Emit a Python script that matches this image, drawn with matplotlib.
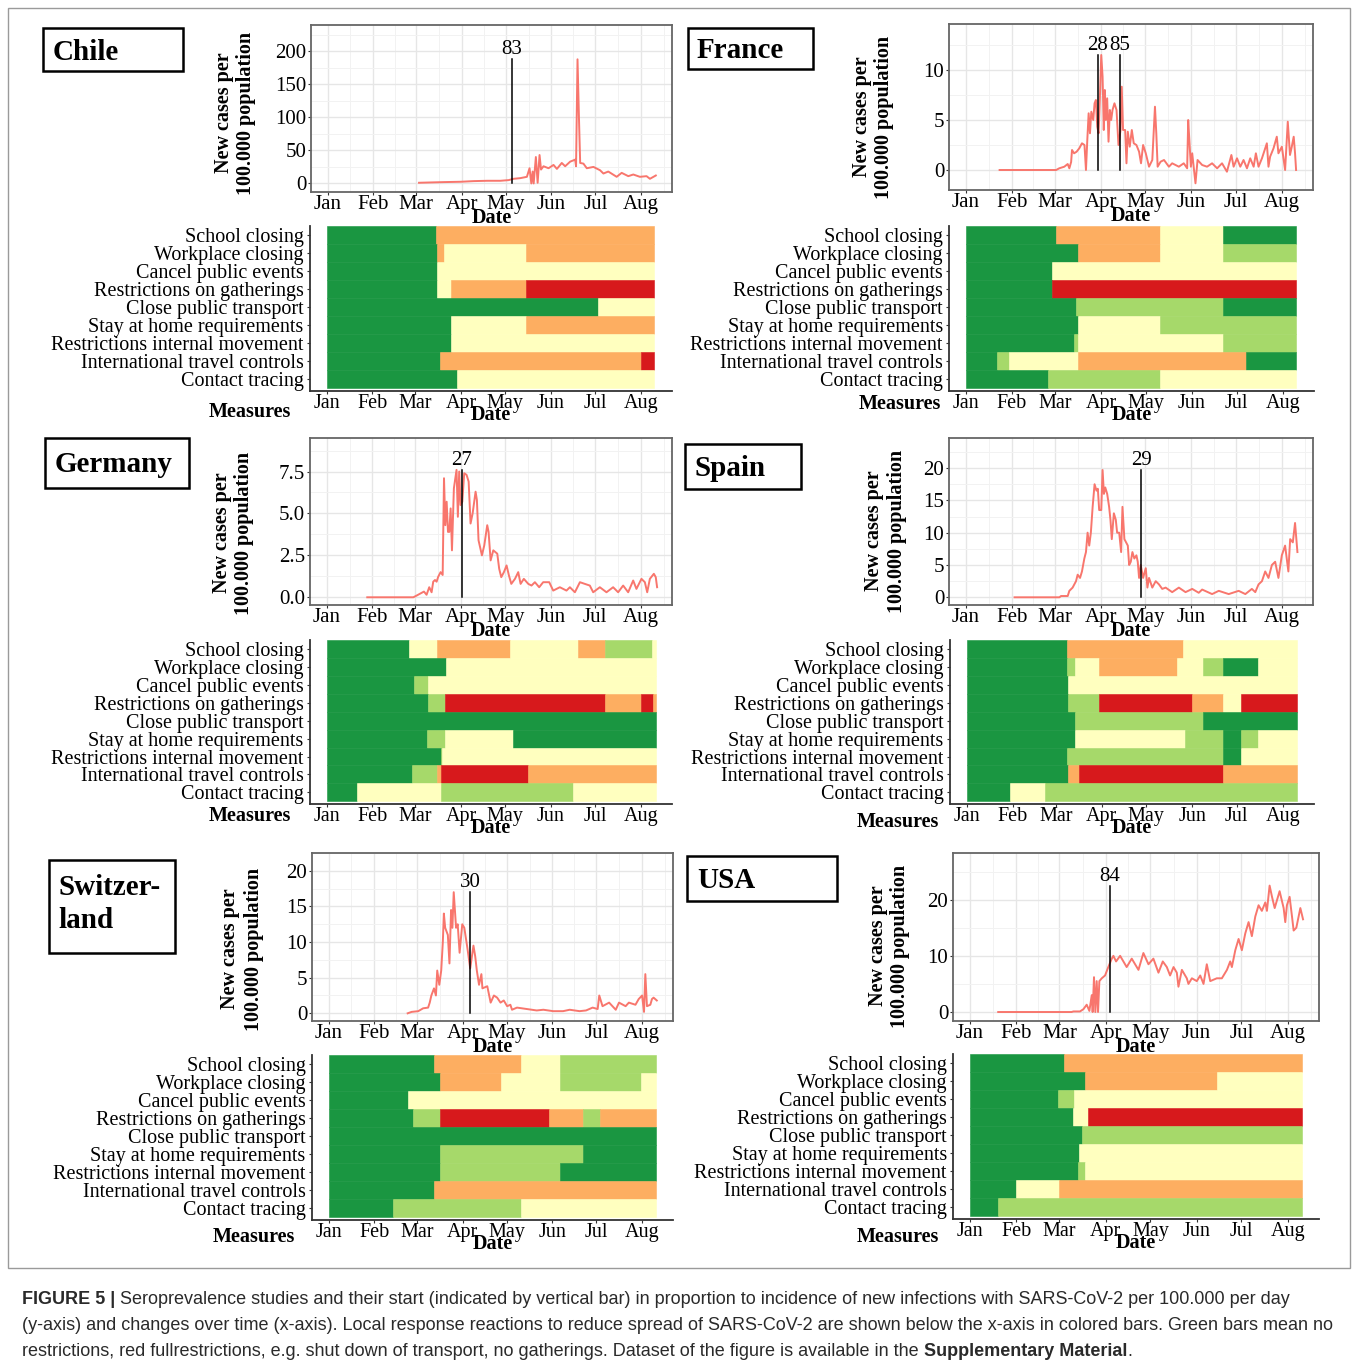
import numpy as np
import matplotlib
matplotlib.use('Agg')
import matplotlib.pyplot as plt
from matplotlib.patches import Rectangle

W, H = 1357, 1370
SERIF = ['Liberation Serif', 'DejaVu Serif']
SANS = ['Liberation Sans', 'DejaVu Sans']
plt.rcParams['font.family'] = SERIF

# ---------------- data ----------------
MONTHS = ['Jan', 'Feb', 'Mar', 'Apr', 'May', 'Jun', 'Jul', 'Aug']
MEASURES = ['School closing', 'Workplace closing', 'Cancel public events',
            'Restrictions on gatherings', 'Close public transport',
            'Stay at home requirements', 'Restrictions internal movement',
            'International travel controls', 'Contact tracing']
LEVEL_COLORS = ['#1a9641', '#a6d96a', '#ffffbf', '#fdae61', '#d7191c']

# days since 2020-01-01 and new cases per 100.000
CHILE_DAYS = [62.1, 79, 90.3, 99.3, 108.4, 117.4, 123, 126.4, 130.9, 135.4, 137.2, 138.4, 139.3, 140,
              141.5, 142.7, 144, 145, 146.7, 150.1, 153.5, 155.8, 159.1, 161.4, 164.8, 168.2, 168.8,
              169.8, 170.7, 171.6, 173.8, 176.1, 180.6, 185.1, 187.4, 190.7, 196.4, 199.8, 204.3,
              207.7, 212.2, 216.7, 219, 223]
CHILE_CASES = [1, 2, 2.5, 3.5, 4, 4, 5, 7, 8, 10, 23, 0, 18, 0, 40, 1, 43, 21, 26, 23, 28, 22, 31, 26,
               33, 36, 26, 188, 106, 31, 30, 23, 25, 20, 15, 18, 10, 16, 11, 13.5, 10, 11, 7, 12]
CHILE_STUDIES = [(125.3, '83')]

FRANCE_DAYS = [22.8, 60.9, 63, 66.4, 68.7, 69.8, 71, 71.6, 73, 74.7, 76.5, 78.3, 80, 81, 81.9, 82.8,
               83.7, 84.6, 85.9, 86.8, 87.7, 88.6, 89.5, 90.4, 91.3, 92.2, 93, 93.7, 94.4, 95.3, 96.2,
               97.1, 98, 98.9, 100.2, 101.6, 102.9, 104.3, 105.1, 106, 107.4, 108.3, 109.2, 110.5,
               111.9, 113.2, 115, 116.8, 118.1, 119.5, 121.3, 123.5, 125.7, 126.6, 127.5, 128.4, 129.3,
               131.3, 133.6, 136.9, 139.1, 143.6, 146.9, 149.2, 149.9, 150.8, 151.7, 152.6, 154.8,
               156.2, 159.3, 162.6, 166, 169.4, 172.7, 176, 179, 180.5, 182.8, 185, 187.2, 189.5,
               191.7, 194, 195.5, 197.3, 199.6, 202.9, 204, 205.1, 207.4, 209.6, 210.7, 213, 215.2,
               217, 218.5, 219.7, 221, 221.9, 222.6]
FRANCE_CASES = [0, 0, 0.17, 0.33, 0.6, 0.17, 0.8, 2.0, 1.67, 1.83, 2.17, 2.67, 2.5, 0, 3.0, 5.67, 3.67,
                5.83, 5.0, 6.67, 7.0, 4.33, 3.67, 7.33, 11.5, 9.33, 4.0, 8.0, 5.0, 7.17, 2.83, 6.0, 5.0,
                6.0, 6.67, 6.0, 2.5, 4.0, 8.33, 4.0, 4.0, 0.67, 3.83, 2.33, 4.0, 2.67, 2.5, 1.83, 0.67,
                2.5, 1.67, 0.33, 1.0, 3.67, 6.33, 3.67, 0.33, 0.83, 1.0, 0.33, 0.67, 0.33, 0.67, 0.17,
                5.0, 2.67, 0.33, 1.67, -1.33, 1.0, 0.5, 0.33, 0.67, 0.17, 0.67, -0.17, 1.5, 0.33, 1.17,
                0.33, 1.0, 0.17, 1.17, 0.33, 1.67, 0.33, 1.17, 2.67, 0.33, 1.33, 2.17, 3.33, 1.67, 2.33,
                0, 4.83, 1.5, 2.33, 3.33, 1.67, 0]
FRANCE_STUDIES = [(89, '28'), (104, '85')]

GERMANY_DAYS = [27.5, 58.7, 60.9, 65.9, 67.7, 69.5, 71.1, 72.2, 73.4, 74.5, 75.6, 77.2, 78.6, 79.5,
                80.4, 81.3, 82.2, 83.1, 84, 84.9, 86.2, 88, 88.9, 89.8, 90.7, 91.9, 93.2, 94.8, 96.2,
                97.5, 98.9, 100.9, 101.8, 102.9, 105.2, 106.8, 108.8, 109.7, 111.1, 112.9, 115.6, 116.9,
                118.3, 120.1, 121.9, 123.5, 125.1, 127.6, 129.8, 131.4, 133.6, 136.6, 138.8, 141.1, 144,
                146.7, 150.8, 153.5, 158, 162.5, 164.8, 168.2, 171.6, 174.9, 178.3, 180.6, 185.1, 189.6,
                194.1, 197.5, 200.9, 204.3, 207.7, 209.9, 213.3, 215.6, 217.2, 219, 221.7, 223, 223.9]
GERMANY_CASES = [0, 0, 0.1, 0.34, 0.15, 0.6, 0.3, 0.93, 1.03, 0.93, 1.23, 1.5, 1.33, 7.1, 4.3, 5.7, 3.9,
                 3.9, 5.3, 2.8, 6.5, 7.6, 4.8, 7.5, 5.5, 5.7, 7.4, 7.3, 6.9, 4.4, 5.0, 6.3, 5.8, 3.4, 2.5,
                 3.1, 4.3, 3.9, 2.2, 2.8, 2.6, 1.7, 1.2, 1.5, 1.9, 1.3, 0.8, 1.1, 1.5, 0.8, 1.1, 0.8, 0.7,
                 0.9, 0.6, 0.9, 0.9, 0.4, 0.6, 0.4, 0.6, 0.3, 0.9, 0.8, 0.7, 0.3, 0.6, 0.3, 0.6, 0.3, 0.7,
                 0.3, 1.0, 0.5, 1.1, 0.9, 0.3, 1.1, 1.4, 1.2, 0.6]
GERMANY_STUDIES = [(91.4, '27')]

SPAIN_DAYS = [32.9, 63.1, 64.2, 68.7, 69.8, 72, 74.3, 75.4, 77, 78.3, 79.9, 81, 82.1, 83.2, 84.3, 85.5,
              86.8, 88.1, 89, 89.9, 91.3, 92.2, 93.1, 94, 95.3, 96.6, 97.5, 98.4, 99.8, 101.1, 102,
              103.4, 104.7, 105.6, 106.9, 109.2, 110.1, 111.2, 112.3, 113.6, 115, 115.9, 116.8, 117.9,
              119.5, 121.3, 122.4, 123.5, 125.7, 128, 130.2, 132.4, 134.7, 139.1, 143.6, 148.1, 152.6,
              157, 159.3, 166, 170.5, 177.2, 183.9, 188.4, 192.8, 195.1, 197.3, 199.6, 201.8, 204,
              206.3, 208.5, 210.7, 213, 215.2, 217.4, 218.6, 220.4, 221.9, 223.5]
SPAIN_CASES = [0, 0, 0.2, 0.2, 1.0, 1.5, 2.5, 3.5, 3.0, 4.0, 6.0, 7.0, 10, 8, 10, 14, 17.5, 16.5, 16.8,
               13.5, 13.5, 19.7, 16, 17, 16, 14, 12, 9, 13, 12, 10, 10, 7, 14, 9, 8, 5, 5.5, 7, 6, 6.5,
               5.5, 3, 5, 3, 4.5, 1.5, 3, 1.5, 2.5, 2.0, 1.3, 1.5, 0.8, 1.5, 0.8, 1.3, 0.7, 1.2, 0.5,
               1.0, 0.5, 1.0, 0.5, 1.3, 0.8, 2.0, 2.5, 4.0, 3.0, 5.0, 5.5, 3.0, 6.5, 8.0, 4.0, 9.0, 8.5,
               11.5, 7.0]
SPAIN_STUDIES = [(118.3, '29')]

SWISS_DAYS = [53.7, 56.4, 60.9, 64.2, 67.6, 68.7, 69.8, 71.6, 72.9, 73.8, 75.2, 76.5, 77.6, 78.3, 79.2,
              81, 82.1, 83.2, 84.1, 85, 86.6, 87.7, 89, 90.8, 92.2, 93.3, 94.4, 96.2, 98.4, 99.6,
              100.7, 102.2, 103.8, 104.5, 107.8, 110.1, 112.3, 114.5, 116.8, 119, 121.3, 123.5, 124.6,
              128, 134.7, 141.4, 145.9, 152.6, 159.3, 163.8, 170.5, 174.9, 179.4, 182.8, 183.9, 186.1,
              190.6, 195.1, 197.3, 201.8, 204, 208.5, 210.7, 213, 214.3, 215.2, 216.3, 218.6, 219.7,
              220.8, 223]
SWISS_CASES = [0, 0.2, 0.3, 0.7, 0.8, 1.5, 2.5, 3.5, 2.5, 6.0, 4.0, 6.0, 10, 14, 12, 11, 7, 14.5, 12, 17,
               12, 12.5, 8.5, 12.5, 12, 10.5, 9, 6.3, 9.5, 8, 6.0, 4.0, 5.5, 3.5, 3.8, 1.5, 2.5, 2.2,
               1.5, 1.8, 1.0, 1.2, 0.5, 0.8, 0.6, 0.4, 0.5, 0.3, 0.3, 0.5, 0.3, 0.4, 0.8, 0.6, 2.5, 1.0,
               1.5, 0.5, 1.5, 1.0, 1.5, 1.2, 2.0, 2.5, 0.2, 5.5, 1.0, 1.2, 2.0, 2.2, 1.8]
SWISS_STUDIES = [(96.2, '30')]

USA_DAYS = [19, 68.2, 69.4, 73.8, 76.1, 78.3, 80.1, 81.7, 82.3, 83.2, 84.1, 85, 85.9, 86.8, 88.4, 90.6,
            92.8, 95.1, 96.2, 98, 100.7, 101.8, 105.1, 108.5, 113, 116.3, 119.7, 123, 126.4, 129.3, 132,
            134.2, 136.5, 138.7, 139.8, 142.1, 145.4, 146.5, 148.8, 152.1, 154.4, 156.6, 158.8, 161.1,
            165.5, 168.9, 172.3, 174.5, 175.6, 177.9, 180.1, 182.3, 184.6, 186.8, 189, 191.3, 193.5,
            195.7, 198, 199.1, 200.9, 202.5, 204.3, 207.6, 210.3, 211.4, 212.5, 214.3, 215.9, 217,
            218.8, 221.5, 223.3]
USA_CASES = [0, 0, 0.1, 0.1, 0.5, 1.3, 0.2, 3, 0, 6.2, 0, 5.5, 0, 5.5, 6.0, 6.5, 8.0, 9.5, 10, 9, 10,
             9.5, 8, 9.5, 7.5, 10.5, 8.5, 9.5, 7.0, 9.0, 8.0, 6.5, 8.0, 7.0, 4.5, 7.5, 6.0, 5.0, 6.0,
             5.5, 6.5, 5.0, 8.5, 5.5, 6.0, 6.0, 7.5, 9.0, 8.0, 11, 13, 11, 14, 16, 13.5, 17, 19, 18,
             19.5, 18, 22.5, 20.5, 18.5, 21.5, 18.5, 16, 19, 20.5, 17, 14.5, 15, 18.5, 16.5]
USA_STUDIES = [(94, '84')]

# measure levels: per measure, list of (start day, level); 0 = no restriction ... 4 = full restriction
CHILE_END = 222
CHILE_HEAT = [[(0, 0), (74, 3)],
              [(0, 0), (75, 3), (79.5, 2), (135, 3)],
              [(0, 0), (75, 2)],
              [(0, 0), (75, 2), (84, 3), (135, 4)],
              [(0, 0), (184, 2)],
              [(0, 0), (84, 2), (135, 3)],
              [(0, 0), (84, 2)],
              [(0, 0), (77, 3), (213, 4)],
              [(0, 0), (88.5, 2)]]
FRANCE_END = 222
FRANCE_HEAT = [[(0, 0), (60.4, 3), (130.6, 2), (173, 0)],
               [(0, 0), (75.4, 3), (130.6, 2), (173, 1)],
               [(0, 0), (58, 2)],
               [(0, 0), (58, 4)],
               [(0, 0), (74, 1), (173, 0)],
               [(0, 0), (75.4, 2), (130.6, 1)],
               [(0, 0), (72.7, 1), (75.4, 2), (173, 1)],
               [(0, 0), (21, 1), (29, 2), (75.4, 3), (188, 0)],
               [(0, 0), (55.3, 1), (130.6, 2)]]
GERMANY_END = 223
GERMANY_HEAT = [[(0, 0), (55.5, 2), (74.7, 3), (124.4, 2), (170, 3), (188.7, 1), (220.3, 2)],
                [(0, 0), (81, 2)],
                [(0, 0), (59, 1), (68.4, 2)],
                [(0, 0), (68.9, 1), (80, 4), (188.7, 3), (213.3, 4), (221.3, 3)],
                [(0, 0)],
                [(0, 0), (68.2, 1), (80, 2), (126.2, 0)],
                [(0, 0), (77.2, 1), (78.1, 2)],
                [(0, 0), (57.8, 1), (74.7, 3), (77.2, 4), (136.3, 3)],
                [(0, 0), (20.8, 2), (77.2, 1), (167, 2)]]
SPAIN_END = 222.6
SPAIN_HEAT = [[(0, 0), (67.8, 3), (146, 2)],
              [(0, 0), (67.8, 1), (73, 2), (89, 3), (142, 2), (159.5, 1), (172.5, 0), (196.4, 2)],
              [(0, 0), (68.5, 2)],
              [(0, 0), (68, 1), (89, 4), (152, 3), (172.5, 2), (185, 4)],
              [(0, 0), (73, 1), (159.5, 0)],
              [(0, 0), (73, 2), (147, 1), (172.5, 0), (185, 1), (196.4, 2)],
              [(0, 0), (67.8, 1), (172.5, 0), (185, 2)],
              [(0, 0), (68.5, 3), (75.6, 4), (172.5, 3)],
              [(0, 0), (29, 2), (53, 1)]]
SWISS_END = 222.4
SWISS_HEAT = [[(0, 0), (71.4, 3), (130.6, 2), (157, 1)],
              [(0, 0), (75.4, 3), (116.8, 2), (157, 1), (212.3, 2)],
              [(0, 0), (54, 2)],
              [(0, 0), (57.5, 1), (75.4, 4), (149.7, 3), (173, 1), (184.3, 3)],
              [(0, 0)],
              [(0, 0), (75.4, 1), (173, 0)],
              [(0, 0), (75.4, 1), (157, 0)],
              [(0, 0), (71.4, 3)],
              [(0, 0), (44, 1), (130.6, 2)]]
USA_END = 222.4
USA_HEAT = [[(0, 0), (63, 3)],
            [(0, 0), (77.4, 3), (165.8, 2)],
            [(0, 0), (59, 1), (70, 2)],
            [(0, 0), (69, 2), (79, 4)],
            [(0, 0), (75.4, 1)],
            [(0, 0), (73, 2)],
            [(0, 0), (72.5, 1), (77.4, 2)],
            [(0, 0), (31, 2), (60, 3)],
            [(0, 0), (18.8, 1)]]

CAPTION_LINES = [
    [('FIGURE 5 |', 'bold'), (' Seroprevalence studies and their start (indicated by vertical bar) in proportion to incidence of new infections with SARS-CoV-2 per 100.000 per day', 'normal')],
    [('(y-axis) and changes over time (x-axis). Local response reactions to reduce spread of SARS-CoV-2 are shown below the x-axis in colored bars. Green bars mean no', 'normal')],
    [('restrictions, red fullrestrictions, e.g. shut down of transport, no gatherings. Dataset of the figure is available in the ', 'normal'),
     ('Supplementary Material', 'bold'), ('.', 'normal')],
]

# ---------------- drawing ----------------
MONTH_DAYS = [int((np.datetime64('2020-%02d-01' % m) - np.datetime64('2020-01-01')).astype(int))
              for m in range(1, 9)]
MINOR_DAYS = [(a + b) / 2 for a, b in zip(MONTH_DAYS[:-1], MONTH_DAYS[1:])] + [MONTH_DAYS[-1] + 15.5]
XL = (-11.3, 234)

fig = plt.figure(figsize=(W / 100, H / 100), dpi=100)


def px(l, t, r, b):
    return [l / W, 1 - b / H, (r - l) / W, (b - t) / H]


def fx(x):
    return x / W


def fy(y):
    return 1 - y / H


def line_chart(box, days, cases, studies, ylim, yticks, ylabels):
    ax = fig.add_axes(px(*box))
    ax.set_xlim(*XL)
    ax.set_ylim(*ylim)
    ax.set_xticks(MONTH_DAYS)
    ax.set_xticklabels(MONTHS)
    ax.set_xticks(MINOR_DAYS, minor=True)
    ax.set_yticks(yticks)
    ax.set_yticklabels(ylabels)
    ym = [(a + b) / 2 for a, b in zip(yticks[:-1], yticks[1:])]
    step = yticks[1] - yticks[0]
    ym = ym + [yticks[-1] + step / 2]
    ax.set_yticks(ym, minor=True)
    ax.grid(which='major', color='#e6e6e6', lw=1.0)
    ax.grid(which='minor', color='#f2f2f2', lw=0.7)
    ax.set_axisbelow(True)
    for s in ax.spines.values():
        s.set_color('#666666')
        s.set_linewidth(1.3)
    ax.tick_params(which='major', length=2.5, color='#333333', labelsize=15, pad=0)
    ax.tick_params(axis='y', pad=1)
    ax.tick_params(which='minor', length=0)
    ax.plot(days, cases, color='#F8766D', lw=1.4, zorder=3)
    top = max(cases)
    for d, lab in studies:
        ax.plot([d, d], [0, top], color='black', lw=1.1, zorder=4)
        ax.annotate(lab, (d, top), xytext=(0, 0), textcoords='offset points',
                    ha='center', va='bottom', fontsize=15)
    ax.set_xlabel('Date', fontweight='bold', fontsize=14.5, labelpad=-5)
    return ax


def heat_chart(box, heat, end):
    hx = fig.add_axes(px(*box))
    for i, segs in enumerate(heat):
        starts = [s for s, _ in segs]
        ends = starts[1:] + [end]
        for (s, lev), e in zip(segs, ends):
            hx.barh(i + 0.5, e - s, left=s, height=1.0, color=LEVEL_COLORS[lev],
                    edgecolor=LEVEL_COLORS[lev], lw=0.4)
    hx.set_xlim(*XL)
    hx.set_ylim(9.15, 0)
    hx.set_yticks([i + 0.5 for i in range(9)])
    hx.set_yticklabels(MEASURES)
    hx.set_xticks(MONTH_DAYS)
    hx.set_xticklabels(MONTHS)
    hx.spines['top'].set_visible(False)
    hx.spines['right'].set_visible(False)
    for s in ('left', 'bottom'):
        hx.spines[s].set_color('#333333')
        hx.spines[s].set_linewidth(1.3)
    hx.tick_params(length=2.5, color='#333333', labelsize=14.5, pad=0)
    hx.tick_params(axis='y', pad=2)
    for t in hx.get_yticklabels():
        t.set_va('center_baseline')
    hx.set_xlabel('Date', fontweight='bold', fontsize=14.5, labelpad=-6)
    return hx


def label_box(rect, text, xy, ls=1.2):
    l, t, r, b = rect
    fig.add_artist(Rectangle((fx(l), fy(b)), (r - l) / W, (b - t) / H, transform=fig.transFigure,
                             fill=False, ec='black', lw=1.8))
    fig.text(fx(xy[0]), fy(xy[1]), text, fontsize=21, fontweight='bold', ha='left', va='center',
             linespacing=ls)


def ylab(xy):
    fig.text(fx(xy[0]), fy(xy[1]), 'New cases per\n100.000 population', rotation=90, ha='center',
             va='center', fontweight='bold', fontsize=14.5, linespacing=1.2, multialignment='center')


def measures(xy):
    fig.text(fx(xy[0]), fy(xy[1]), 'Measures', ha='center', va='center', fontweight='bold', fontsize=14.5)


# Chile
line_chart((311, 25, 672, 192), CHILE_DAYS, CHILE_CASES, CHILE_STUDIES, (-13, 240),
           [0, 50, 100, 150, 200], ['0', '50', '100', '150', '200'])
heat_chart((310, 226, 672, 391), CHILE_HEAT, CHILE_END)
label_box((43, 28, 183, 71), 'Chile', (53, 52))
ylab((235, 113))
measures((250, 412))

# France
line_chart((949, 24, 1313, 190), FRANCE_DAYS, FRANCE_CASES, FRANCE_STUDIES, (-2, 14.6),
           [0, 5, 10], ['0', '5', '10'])
heat_chart((949, 226, 1314, 391), FRANCE_HEAT, FRANCE_END)
label_box((688, 28, 813, 69), 'France', (697, 51))
ylab((873, 117))
measures((900, 404))

# Germany
line_chart((310, 438, 672, 605), GERMANY_DAYS, GERMANY_CASES, GERMANY_STUDIES, (-0.46, 9.5),
           [0, 2.5, 5, 7.5], ['0.0', '2.5', '5.0', '7.5'])
heat_chart((310, 640, 672, 804), GERMANY_HEAT, GERMANY_END)
label_box((45, 438, 189, 488), 'Germany', (55, 465))
ylab((233, 533))
measures((250, 816))

# Spain
line_chart((949, 438, 1313, 605), SPAIN_DAYS, SPAIN_CASES, SPAIN_STUDIES, (-1.19, 24.65),
           [0, 5, 10, 15, 20], ['0', '5', '10', '15', '20'])
heat_chart((950, 640, 1314, 804), SPAIN_HEAT, SPAIN_END)
label_box((685, 444, 801, 489), 'Spain', (695, 468))
ylab((886, 531))
measures((898, 822))

# Switzerland
line_chart((312, 853, 673, 1021), SWISS_DAYS, SWISS_CASES, SWISS_STUDIES, (-1.08, 21.5),
           [0, 5, 10, 15, 20], ['0', '5', '10', '15', '20'])
heat_chart((312, 1055, 673, 1220), SWISS_HEAT, SWISS_END)
label_box((49, 860, 175, 953), 'Switzer-\nland', (58, 904), ls=1.3)
ylab((242, 949))
measures((254, 1237))

# USA
line_chart((953, 853, 1319, 1021), USA_DAYS, USA_CASES, USA_STUDIES, (-1.6, 28.3),
           [0, 10, 20], ['0', '10', '20'])
heat_chart((953, 1054, 1319, 1219), USA_HEAT, USA_END)
label_box((687, 856, 837, 901), 'USA', (697, 880))
ylab((889, 946))
measures((898, 1237))

# frame
fig.add_artist(Rectangle((fx(8), fy(1268)), (1350 - 8) / W, (1268 - 8) / H, transform=fig.transFigure,
                         fill=False, ec='#9a9a9a', lw=1.0))

# caption
renderer = fig.canvas.get_renderer()
cap_y = [1300, 1326, 1351]
for line, yy in zip(CAPTION_LINES, cap_y):
    x = 22
    for txt, wt in line:
        t = fig.text(fx(x), fy(yy), txt, family=SANS, fontsize=12.95, fontweight=wt, color='#2a2a2a',
                     ha='left', va='center')
        bb = t.get_window_extent(renderer=renderer)
        x += bb.width

fig.savefig('out.png', dpi=100)
